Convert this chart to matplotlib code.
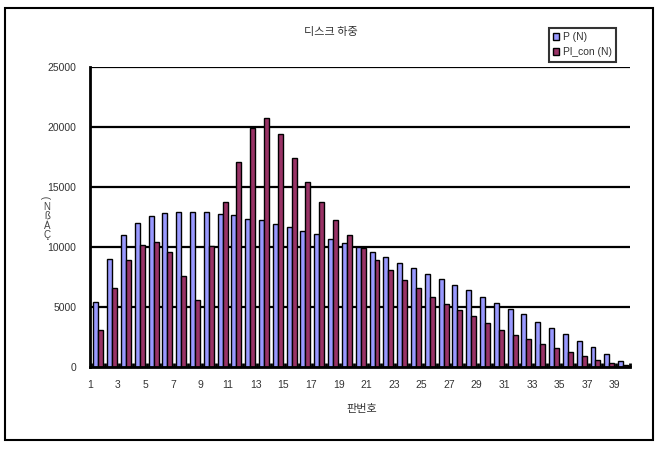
import numpy as np
import matplotlib.pyplot as plt
from matplotlib.patches import Rectangle

plt.rcParams['font.family'] = ['Liberation Sans', 'Noto Sans CJK KR', 'DejaVu Sans']

plates = np.arange(1, 40)  # 판번호 1..39
p_n = [5440, 9030, 10990, 12030, 12560, 12840, 12920, 12920, 12920, 12780,
       12640, 12360, 12220, 11950, 11670, 11330, 11060, 10700, 10360, 10000,
       9580, 9150, 8700, 8250, 7780, 7360, 6860, 6390, 5830, 5330,
       4850, 4400, 3780, 3250, 2720, 2200, 1670, 1060, 540]
pl_con = [3060, 6610, 8950, 10200, 10390, 9580, 7560, 5610, 10080, 13750,
          17050, 19900, 20750, 19450, 17440, 15400, 13750, 12220, 11030, 9920,
          8950, 8080, 7280, 6600, 5860, 5280, 4720, 4220, 3680, 3120,
          2700, 2360, 1940, 1580, 1220, 890, 610, 360, 140]
yticks = [0, 5000, 10000, 15000, 20000, 25000]
xtick_labels = [str(i) for i in plates[::2]]

fig = plt.figure(figsize=(6.69, 4.5), dpi=100)
fig.patches.append(Rectangle((5 / 669, 1 - 440 / 450), 648 / 669, 432 / 450,
                             transform=fig.transFigure, fill=False,
                             edgecolor='black', linewidth=1.5))

ax = fig.add_axes([90 / 669, 1 - 367 / 450, 540 / 669, 300 / 450])
w = 0.36
ax.bar(plates - w / 2, p_n, width=w, color='#9999FF', edgecolor='black',
       linewidth=1.0, label='P (N)', zorder=3)
ax.bar(plates + w / 2, pl_con, width=w, color='#993366', edgecolor='black',
       linewidth=1.0, label='Pl_con (N)', zorder=3)

ax.set_xlim(0.5, 39.5)
ax.set_ylim(0, 25000)
ax.set_yticks(yticks)
ax.yaxis.grid(True, color='black', linewidth=1.6)
ax.set_axisbelow(True)
for s in ['top', 'right']:
    ax.spines[s].set_visible(False)
ax.spines['left'].set_linewidth(2)
ax.spines['bottom'].set_linewidth(2)
ax.spines['bottom'].set_zorder(4)

ax.set_xticks(plates[::2] - 0.6)
ax.set_xticklabels(xtick_labels)
ax.set_xticks(np.arange(0.5, 40, 1), minor=True)
ax.tick_params(axis='x', which='major', length=0, pad=9, labelsize=7.5,
               labelcolor='#333333')
ax.tick_params(axis='x', which='minor', direction='in', length=3, width=2)
ax.tick_params(axis='y', length=0, pad=10, labelsize=7.5, labelcolor='#333333')

fig.text(331 / 669, 1 - 32 / 450, '디스크 하중', ha='center', va='center',
         fontsize=8, color='#333333', family=['Noto Sans CJK KR', 'DejaVu Sans'])
fig.text(362 / 669, 1 - 409 / 450, '판번호', ha='center', va='center',
         fontsize=8, color='#333333', family=['Noto Sans CJK KR', 'DejaVu Sans'])
fig.text(47 / 669, 1 - 197 / 450, ')', ha='center', va='center', rotation=90,
         fontsize=7, color='#444444')
fig.text(47 / 669, 1 - 221 / 450, 'N\nß\nÁ\nÇ', ha='center', va='center',
         fontsize=7, color='#444444', linespacing=0.9)

leg = ax.legend(loc='upper left', bbox_to_anchor=(549 / 669, 1 - 28 / 450),
                bbox_transform=fig.transFigure, frameon=True, fancybox=False,
                edgecolor='black', fontsize=7.5, handlelength=0.6,
                handleheight=0.6, handletextpad=0.3, labelspacing=0.5,
                borderpad=0.4, borderaxespad=0)
leg.get_frame().set_linewidth(1.5)
for t in leg.get_texts():
    t.set_color('#333333')

fig.savefig('out.png', dpi=100)
